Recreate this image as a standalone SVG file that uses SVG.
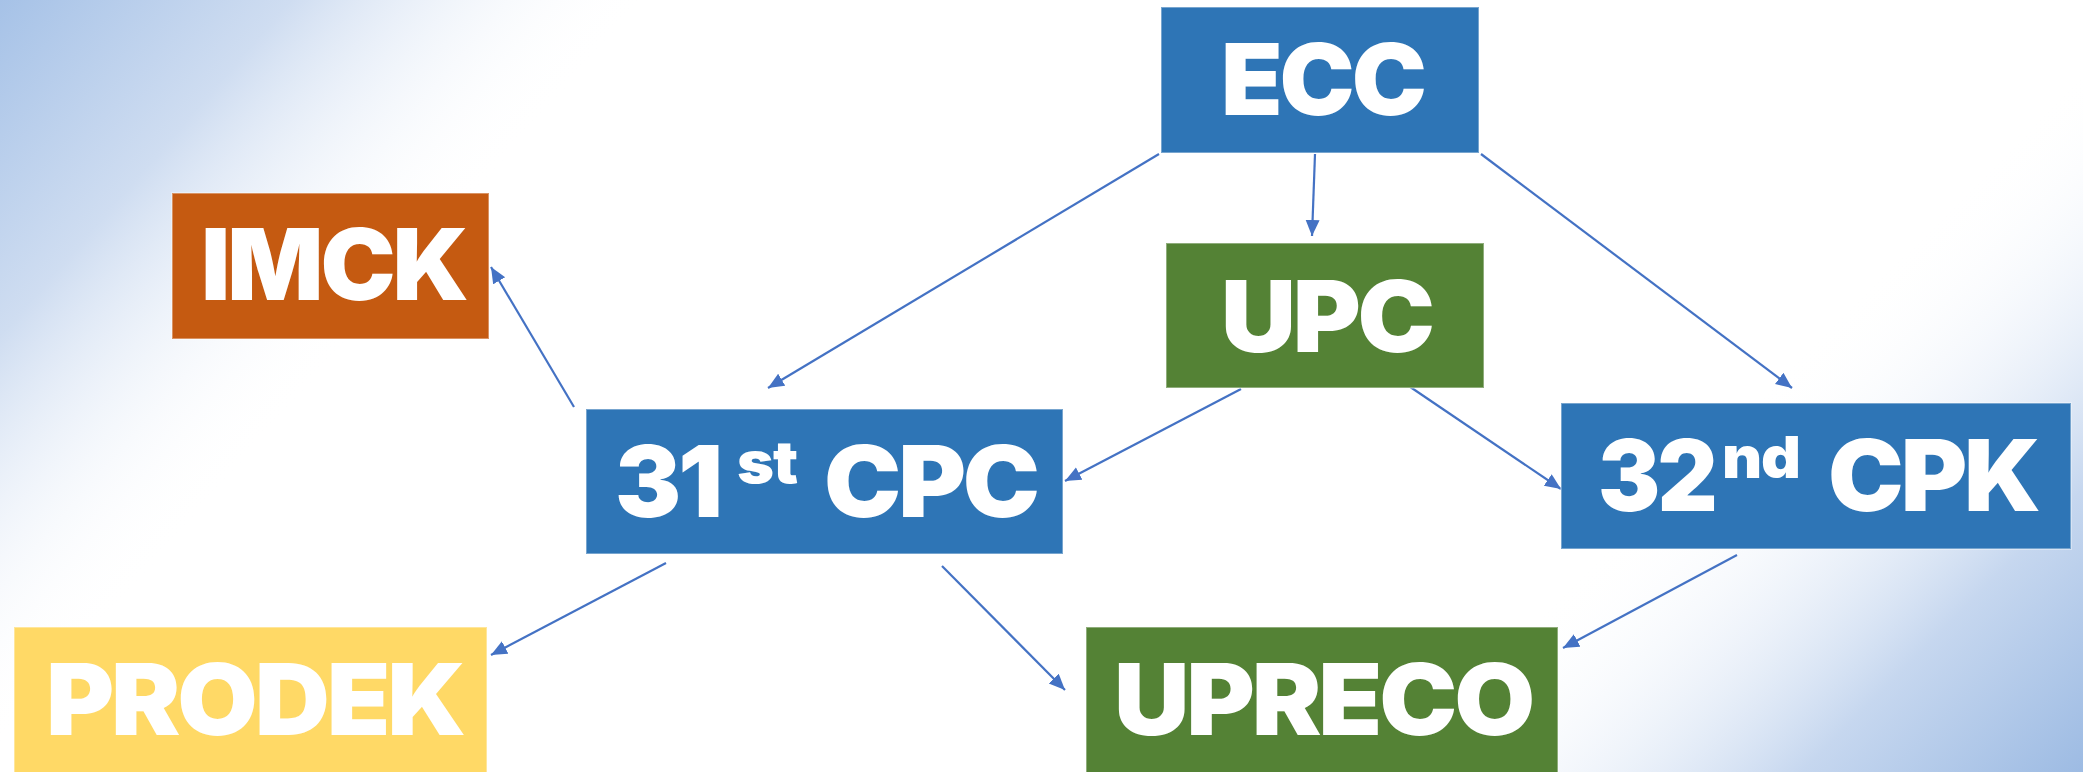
<svg xmlns="http://www.w3.org/2000/svg" width="2083" height="772" viewBox="0 0 2083 772">
  <defs>
    <linearGradient id="bgTL" gradientUnits="userSpaceOnUse" x1="0" y1="0" x2="370" y2="320">
      <stop offset="0" stop-color="#A6C2E7"/>
      <stop offset="0.45" stop-color="#CFDDF1"/>
      <stop offset="1" stop-color="#FFFFFF" stop-opacity="0"/>
    </linearGradient>
    <linearGradient id="bgBR" gradientUnits="userSpaceOnUse" x1="2083" y1="772" x2="1730" y2="420">
      <stop offset="0" stop-color="#9DBBE3"/>
      <stop offset="0.4" stop-color="#C6D7EF"/>
      <stop offset="1" stop-color="#FFFFFF" stop-opacity="0"/>
    </linearGradient>
    <marker id="arrow" markerUnits="userSpaceOnUse" markerWidth="18" markerHeight="16" refX="16" refY="7" orient="auto">
      <path d="M0,0 L16,7 L0,14 Z" fill="#4472C4"/>
    </marker>
    <style>
      .box { stroke: #ffffff; stroke-opacity: 0.35; stroke-width: 2; }
      .blue { fill: #2E75B6; }
      .green { fill: #548235; }
      .orange { fill: #C55A11; }
      .yellow { fill: #FFD966; }
      .lbl { font-family: Inter, "Liberation Sans", Arial, sans-serif; font-weight: 900; font-size: 99px; letter-spacing: -3px; fill: #ffffff; }
      .sup { font-size: 58px; letter-spacing: -1px; }
      .conn line { stroke: #4472C4; stroke-width: 2.2; fill: none; marker-end: url(#arrow); }
    </style>
  </defs>

  <rect x="0" y="0" width="2083" height="772" fill="#ffffff"/>
  <rect x="0" y="0" width="2083" height="772" fill="url(#bgTL)"/>
  <rect x="0" y="0" width="2083" height="772" fill="url(#bgBR)"/>

  <g id="connectors" class="conn">
    <line x1="1159" y1="154" x2="768" y2="388"/>
    <line x1="1315" y1="154" x2="1312" y2="236"/>
    <line x1="1481" y1="154" x2="1792" y2="388"/>
    <line x1="574" y1="407" x2="491" y2="267"/>
    <line x1="1241" y1="389" x2="1065" y2="481"/>
    <line x1="1397" y1="378" x2="1561" y2="489"/>
    <line x1="666" y1="563" x2="491" y2="655"/>
    <line x1="942" y1="566" x2="1065" y2="690"/>
    <line x1="1737" y1="555" x2="1563" y2="648"/>
  </g>

  <g id="node-ecc">
    <rect class="box blue" x="1161" y="7" width="318" height="146"/>
    <text class="lbl" x="1221" y="115" textLength="203" lengthAdjust="spacingAndGlyphs">ECC</text>
  </g>

  <g id="node-upc">
    <rect class="box green" x="1166" y="243" width="318" height="145"/>
    <text class="lbl" x="1221" y="352" textLength="211" lengthAdjust="spacingAndGlyphs">UPC</text>
  </g>

  <g id="node-imck">
    <rect class="box orange" x="172" y="193" width="317" height="146"/>
    <text class="lbl" x="201" y="300" textLength="265" lengthAdjust="spacingAndGlyphs">IMCK</text>
  </g>

  <g id="node-31st-cpc">
    <rect class="box blue" x="586" y="409" width="477" height="145"/>
    <text class="lbl" x="615" y="517" textLength="105" lengthAdjust="spacingAndGlyphs">31</text>
    <text class="lbl sup" x="737" y="483" textLength="60" lengthAdjust="spacingAndGlyphs">st</text>
    <text class="lbl" x="824" y="517" textLength="213" lengthAdjust="spacingAndGlyphs">CPC</text>
  </g>

  <g id="node-32nd-cpk">
    <rect class="box blue" x="1561" y="403" width="510" height="146"/>
    <text class="lbl" x="1598" y="511" textLength="117" lengthAdjust="spacingAndGlyphs">32</text>
    <text class="lbl sup" x="1722" y="478" textLength="78" lengthAdjust="spacingAndGlyphs">nd</text>
    <text class="lbl" x="1828" y="511" textLength="210" lengthAdjust="spacingAndGlyphs">CPK</text>
  </g>

  <g id="node-prodek">
    <rect class="box yellow" x="14" y="627" width="473" height="150"/>
    <text class="lbl" x="46" y="735" textLength="417" lengthAdjust="spacingAndGlyphs">PRODEK</text>
  </g>

  <g id="node-upreco">
    <rect class="box green" x="1086" y="627" width="472" height="150"/>
    <text class="lbl" x="1114" y="735" textLength="418" lengthAdjust="spacingAndGlyphs">UPRECO</text>
  </g>
</svg>
